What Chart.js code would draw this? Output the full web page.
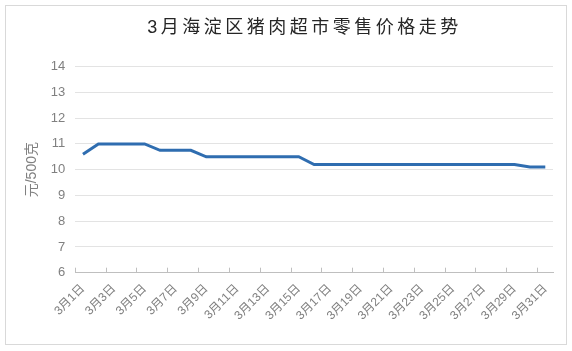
<!DOCTYPE html>
<html>
<head>
<meta charset="utf-8">
<script src="https://cdn.jsdelivr.net/npm/chart.js@4/dist/chart.umd.min.js"></script>
<style>
  html, body { margin: 0; padding: 0; background: #ffffff; }
  #wrap { position: relative; width: 572px; height: 351px; }
  #frame { position: absolute; left: 5px; top: 5px; width: 560px; height: 338px; border: 1px solid #d9d9d9; pointer-events: none; }
  canvas { position: absolute; left: 0; top: 0; }
</style>
</head>
<body>
<div id="wrap">
  <canvas id="c" width="572" height="351"></canvas>
  <div id="frame"></div>
</div>
<script>
const chartTitle = '3月海淀区猪肉超市零售价格走势';
const yAxisTitle = '元/500克';
const days = [];
for (let d = 1; d <= 31; d++) days.push('3月' + d + '日');
const prices = [
  10.6, 11.0, 11.0, 11.0, 11.0, 10.75, 10.75, 10.75,
  10.5, 10.5, 10.5, 10.5, 10.5, 10.5, 10.5,
  10.2, 10.2, 10.2, 10.2, 10.2, 10.2, 10.2, 10.2, 10.2, 10.2, 10.2, 10.2, 10.2, 10.2,
  10.1, 10.1
];
const yMin = 6, yMax = 14, yStep = 1;

const FONT = '"Liberation Sans", "Noto Sans CJK SC", Arial, sans-serif';
const GRAY = '#808080';

// widen the title's letter spacing and nudge it right to match the reference
const titleStyle = {
  id: 'titleStyle',
  beforeDraw(chart) {
    const tb = chart.titleBlock;
    if (tb && !tb._styled) {
      const orig = tb.draw.bind(tb);
      tb.draw = function () {
        const c = this.ctx;
        c.save();
        c.letterSpacing = '3.5px';
        c.translate(16, 0);
        orig();
        c.restore();
        c.letterSpacing = '0px';
      };
      tb._styled = true;
    }
  }
};

new Chart(document.getElementById('c'), {
  type: 'line',
  data: {
    labels: days,
    datasets: [{
      data: prices,
      borderColor: '#2f6db0',
      borderWidth: 3,
      pointRadius: 0,
      tension: 0,
      fill: false
    }]
  },
  plugins: [titleStyle],
  options: {
    responsive: false,
    devicePixelRatio: 1,
    animation: false,
    layout: { padding: { left: 24, right: 19, top: 8, bottom: 14 } },
    plugins: {
      legend: { display: false },
      tooltip: { enabled: false },
      title: {
        display: true,
        text: chartTitle,
        color: '#262626',
        font: { family: FONT, size: 18, weight: 'normal' },
        padding: { top: 9, bottom: 28 }
      }
    },
    scales: {
      x: {
        type: 'category',
        offset: true,
        grid: {
          offset: true,
          drawOnChartArea: false,
          drawTicks: true,
          tickLength: -5,
          color: (ctx) => (ctx.index % 2 === 0 && ctx.index < 31) ? '#bfbfbf' : 'rgba(0,0,0,0)'
        },
        border: { display: true, color: '#bfbfbf', width: 1 },
        ticks: {
          autoSkip: false,
          maxRotation: 45,
          minRotation: 45,
          padding: 14,
          color: GRAY,
          font: { family: FONT, size: 12 },
          callback: function (val, idx) { return idx % 2 === 0 ? this.getLabelForValue(val) : ''; }
        }
      },
      y: {
        min: yMin,
        max: yMax,
        ticks: {
          stepSize: yStep,
          color: GRAY,
          padding: 10,
          font: { family: FONT, size: 13 }
        },
        grid: { color: '#e3e3e3', drawTicks: false, lineWidth: 1 },
        border: { display: false },
        title: {
          display: true,
          text: yAxisTitle,
          color: GRAY,
          font: { family: FONT, size: 14 },
          padding: { top: 0, bottom: 0 }
        }
      }
    }
  }
});
</script>
</body>
</html>
